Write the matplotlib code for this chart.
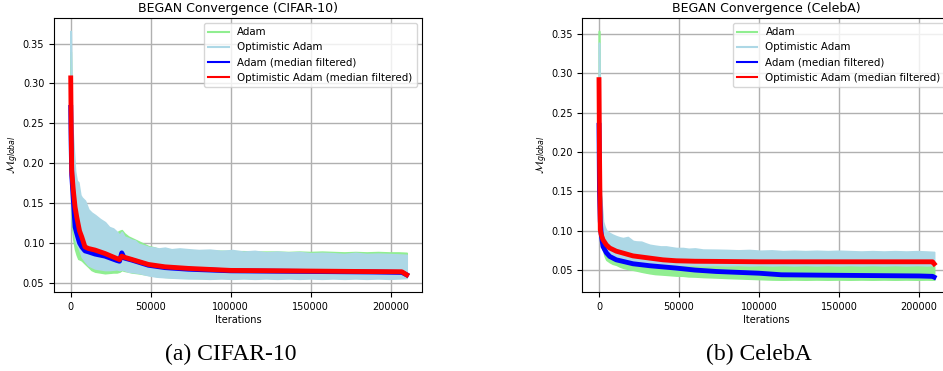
import matplotlib.pyplot as plt
from matplotlib.lines import Line2D

# ---- CIFAR-10: datos crudos (envolventes)
iter_cifar = [0, 400, 800, 1600, 2700, 3750, 4750, 6000, 6900, 8900,
              11000, 13000, 15200, 18300, 21400, 24000, 26600, 28750, 30500, 31900,
              33500, 36000, 38100, 40200, 42300, 45400, 48500, 52700, 55000, 58900,
              63000, 68000, 73500, 80000, 87000, 94000, 101000, 108000, 115000, 122000,
              129000, 136000, 143000, 150000, 157000, 164000, 171000, 178000, 185000, 192000,
              199000, 205000, 210000]
adam_max_cifar = [0.34, 0.28, 0.23, 0.20, 0.17, 0.16, 0.15, 0.14, 0.135, 0.13,
                  0.125, 0.12, 0.118, 0.115, 0.113, 0.112, 0.112, 0.113, 0.115, 0.116,
                  0.112, 0.108, 0.106, 0.104, 0.102, 0.099, 0.096, 0.094, 0.092, 0.092,
                  0.091, 0.091, 0.0905, 0.0905, 0.09, 0.09, 0.0895, 0.0895, 0.089, 0.089,
                  0.089, 0.0885, 0.089, 0.0885, 0.089, 0.0885, 0.088, 0.0885, 0.088, 0.0885,
                  0.088, 0.088, 0.0875]
adam_min_cifar = [0.20, 0.15, 0.12, 0.105, 0.092, 0.085, 0.08, 0.079, 0.078, 0.074,
                  0.07, 0.066, 0.064, 0.063, 0.062, 0.0625, 0.063, 0.063, 0.064, 0.066,
                  0.065, 0.064, 0.063, 0.0625, 0.062, 0.061, 0.060, 0.059, 0.058, 0.0575,
                  0.057, 0.0565, 0.0565, 0.056, 0.056, 0.0565, 0.056, 0.0565, 0.056, 0.0565,
                  0.056, 0.0565, 0.056, 0.0565, 0.056, 0.0565, 0.056, 0.0565, 0.056, 0.0565,
                  0.056, 0.0565, 0.057]
oadam_max_cifar = [0.366, 0.30, 0.25, 0.226, 0.19, 0.178, 0.176, 0.16, 0.157, 0.153,
                   0.142, 0.138, 0.135, 0.13, 0.126, 0.12, 0.118, 0.114, 0.11, 0.114,
                   0.108, 0.106, 0.104, 0.103, 0.099, 0.097, 0.095, 0.094, 0.093, 0.094,
                   0.092, 0.093, 0.092, 0.091, 0.0915, 0.09, 0.091, 0.089, 0.09, 0.088,
                   0.089, 0.088, 0.0885, 0.087, 0.0875, 0.087, 0.086, 0.0875, 0.086, 0.0865,
                   0.086, 0.0855, 0.085]
oadam_min_cifar = [0.20, 0.17, 0.14, 0.12, 0.105, 0.098, 0.095, 0.088, 0.0825, 0.077,
                   0.072, 0.070, 0.068, 0.067, 0.066, 0.066, 0.0665, 0.067, 0.066, 0.0668,
                   0.066, 0.064, 0.0635, 0.063, 0.0625, 0.061, 0.0595, 0.058, 0.0575, 0.057,
                   0.0565, 0.056, 0.0555, 0.0555, 0.055, 0.0555, 0.055, 0.0555, 0.055, 0.0555,
                   0.055, 0.0555, 0.055, 0.0555, 0.055, 0.0555, 0.055, 0.0555, 0.055, 0.0555,
                   0.055, 0.0555, 0.056]

# ---- CIFAR-10: filtro de mediana
iter_med_cifar = [0, 300, 625, 1600, 2700, 3750, 5500, 6900, 8900, 11000,
                  15200, 21400, 28750, 30500, 31900, 33500, 38100, 48500, 58900, 73500,
                  100000, 130000, 160000, 190000, 207000, 210000]
adam_med_cifar = [0.27, 0.22, 0.185, 0.155, 0.12, 0.112, 0.100, 0.095, 0.090, 0.0888,
                  0.086, 0.0834, 0.078, 0.077, 0.0875, 0.081, 0.0785, 0.072, 0.069, 0.067,
                  0.065, 0.0645, 0.064, 0.0635, 0.063, 0.060]
oadam_med_cifar = [0.307, 0.24, 0.191, 0.166, 0.145, 0.1325, 0.115, 0.1075, 0.095, 0.093,
                   0.091, 0.0867, 0.0805, 0.079, 0.0834, 0.082, 0.0793, 0.073, 0.070, 0.068,
                   0.0655, 0.065, 0.0645, 0.064, 0.0638, 0.060]

# ---- CelebA: datos crudos
iter_celeba = [0, 400, 800, 1400, 2000, 2500, 3500, 4600, 6700, 8500,
               10800, 13000, 15000, 18000, 21250, 23300, 26500, 29000, 31700, 35000,
               38500, 42000, 45000, 48300, 52500, 56000, 60000, 65000, 73300, 80000,
               87000, 94000, 101000, 108000, 115000, 122000, 129000, 136000, 143000, 150000,
               157000, 164000, 171000, 178000, 185000, 192000, 199000, 205000, 209500]
adam_max_celeba = [0.354, 0.18, 0.15, 0.139, 0.11, 0.095, 0.085, 0.08, 0.075, 0.072,
                   0.07, 0.068, 0.066, 0.065, 0.063, 0.0625, 0.062, 0.061, 0.06, 0.0595,
                   0.059, 0.0585, 0.058, 0.0575, 0.057, 0.0565, 0.056, 0.0558, 0.0555, 0.055,
                   0.055, 0.0548, 0.055, 0.0548, 0.055, 0.0548, 0.055, 0.0548, 0.055, 0.0548,
                   0.055, 0.0548, 0.055, 0.0548, 0.055, 0.0548, 0.055, 0.0548, 0.055]
adam_min_celeba = [0.25, 0.10, 0.09, 0.085, 0.08, 0.0758, 0.068, 0.063, 0.06, 0.058,
                   0.0567, 0.0545, 0.053, 0.0515, 0.0504, 0.0495, 0.048, 0.047, 0.046, 0.045,
                   0.0445, 0.044, 0.0435, 0.043, 0.0428, 0.042, 0.0418, 0.0412, 0.0406, 0.040,
                   0.0395, 0.039, 0.0385, 0.038, 0.0378, 0.038, 0.0378, 0.038, 0.0378, 0.038,
                   0.0378, 0.038, 0.0378, 0.038, 0.0378, 0.038, 0.0378, 0.038, 0.0378]
oadam_max_celeba = [0.339, 0.20, 0.165, 0.139, 0.125, 0.1117, 0.105, 0.10, 0.097, 0.095,
                    0.093, 0.0915, 0.0906, 0.092, 0.087, 0.0863, 0.086, 0.084, 0.0821, 0.081,
                    0.080, 0.080, 0.079, 0.078, 0.078, 0.077, 0.0775, 0.076, 0.0758, 0.0755,
                    0.075, 0.0755, 0.0745, 0.075, 0.074, 0.0745, 0.074, 0.0745, 0.074, 0.0745,
                    0.074, 0.0735, 0.074, 0.0735, 0.074, 0.0735, 0.074, 0.0735, 0.073]
oadam_min_celeba = [0.25, 0.12, 0.10, 0.09, 0.08, 0.075, 0.072, 0.07, 0.068, 0.066,
                    0.065, 0.064, 0.063, 0.062, 0.061, 0.0605, 0.06, 0.0595, 0.059, 0.0585,
                    0.058, 0.0578, 0.0575, 0.057, 0.0568, 0.0565, 0.0565, 0.056, 0.0565, 0.056,
                    0.0565, 0.056, 0.0565, 0.056, 0.0565, 0.056, 0.0565, 0.056, 0.0565, 0.056,
                    0.0565, 0.056, 0.0565, 0.056, 0.0565, 0.056, 0.0565, 0.056, 0.0565]

# ---- CelebA: filtro de mediana
iter_med_celeba = [0, 300, 800, 1400, 2500, 4600, 6700, 10800, 15000, 21250,
                   31700, 40000, 48300, 60000, 73300, 100000, 114000, 140000, 170000, 200000,
                   208500, 209500]
adam_med_celeba = [0.234, 0.15, 0.112, 0.095, 0.080, 0.072, 0.0673, 0.063, 0.061, 0.058,
                   0.0555, 0.054, 0.0525, 0.050, 0.0482, 0.046, 0.044, 0.0435, 0.043, 0.0425,
                   0.042, 0.041]
oadam_med_celeba = [0.292, 0.2, 0.101, 0.095, 0.0885, 0.082, 0.078, 0.074, 0.0716, 0.068,
                    0.0652, 0.063, 0.0618, 0.0612, 0.061, 0.0605, 0.0605, 0.0605, 0.0605, 0.0605,
                    0.0605, 0.058]

etiquetas = ['Adam', 'Optimistic Adam', 'Adam (median filtered)',
             'Optimistic Adam (median filtered)']
colores = ['lightgreen', 'lightblue', 'b', 'r']
yticks = [0.05, 0.10, 0.15, 0.20, 0.25, 0.30, 0.35]
xticks = [0, 50000, 100000, 150000, 200000]


def grafica(ax, titulo, it, a_max, a_min, o_max, o_min, it_med, a_med, o_med, ylim):
    ax.fill_between(it, a_min, a_max, color=colores[0], lw=1.2)
    ax.fill_between(it, o_min, o_max, color=colores[1], lw=1.2)
    ax.plot(it_med, a_med, color=colores[2], linewidth=3.5)
    ax.plot(it_med, o_med, color=colores[3], linewidth=3.5)
    ax.set_xlim(-10440, 219400)
    ax.set_ylim(ylim)
    ax.set_xticks(xticks)
    ax.set_yticks(yticks)
    ax.set_title(titulo, fontsize=9, pad=4)
    ax.set_xlabel('Iterations', fontsize=7, labelpad=2)
    ax.set_ylabel(r'$\mathcal{M}_{global}$', fontsize=8, labelpad=1)
    ax.tick_params(labelsize=7)
    ax.grid(True, color='#b0b0b0', linewidth=1)
    ax.set_axisbelow(True)
    handles = [Line2D([], [], color=c, linewidth=1.5) for c in colores]
    ax.legend(handles, etiquetas, loc='upper right', fontsize=7.4)


fig = plt.figure(figsize=(9.43, 3.71), dpi=100)
ax1 = fig.add_axes([0.0573, 0.2129, 0.3899, 0.7385])
ax2 = fig.add_axes([0.6175, 0.2129, 0.3899, 0.7385])

grafica(ax1, 'BEGAN Convergence (CIFAR-10)', iter_cifar, adam_max_cifar, adam_min_cifar,
        oadam_max_cifar, oadam_min_cifar, iter_med_cifar, adam_med_cifar, oadam_med_cifar,
        (0.0384, 0.3821))
grafica(ax2, 'BEGAN Convergence (CelebA)', iter_celeba, adam_max_celeba, adam_min_celeba,
        oadam_max_celeba, oadam_min_celeba, iter_med_celeba, adam_med_celeba, oadam_med_celeba,
        (0.0221, 0.3703))

fig.text(231 / 943, 1 - 354 / 371, '(a) CIFAR-10', fontsize=17, family='Liberation Serif',
         ha='center', va='center')
fig.text(759 / 943, 1 - 354 / 371, '(b) CelebA', fontsize=17, family='Liberation Serif',
         ha='center', va='center')

fig.savefig('out.png', dpi=100)
